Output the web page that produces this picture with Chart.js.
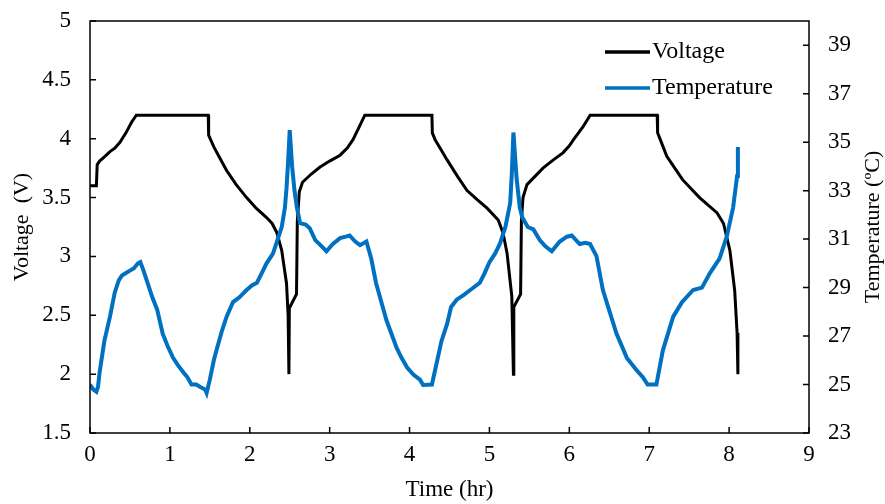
<!DOCTYPE html>
<html>
<head>
<meta charset="utf-8">
<script src="https://cdn.jsdelivr.net/npm/chart.js@4.4.1/dist/chart.umd.min.js"></script>
<style>
  html, body { margin: 0; padding: 0; background: #fff; }
</style>
</head>
<body>
<canvas id="lineChart" width="885" height="504"></canvas>
<script>
// Voltage curve: time (hr) / voltage (V)
const voltTime = [0, 0.08, 0.09, 0.12, 0.17, 0.25, 0.31, 0.375, 0.45, 0.52, 0.58, 1.48, 1.485, 1.55, 1.63, 1.71, 1.83, 1.96, 2.08, 2.21, 2.28, 2.34, 2.40, 2.46, 2.48, 2.49,
    2.495, 2.585, 2.595, 2.62, 2.66, 2.77, 2.88, 3.00, 3.13, 3.22, 3.29, 3.37, 3.44, 4.28, 4.285, 4.32, 4.40, 4.47, 4.60, 4.72, 4.85, 4.97, 5.11, 5.17, 5.22, 5.28, 5.30,
    5.305, 5.39, 5.40, 5.42, 5.47, 5.57, 5.67, 5.80, 5.92, 6.00, 6.05, 6.17, 6.26, 7.10, 7.105, 7.14, 7.22, 7.32, 7.42, 7.63, 7.85, 7.93, 8.01, 8.07, 8.10, 8.11];
const voltage = [3.6, 3.6, 3.78, 3.81, 3.84, 3.89, 3.92, 3.97, 4.05, 4.14, 4.2, 4.2, 4.03, 3.93, 3.83, 3.73, 3.61, 3.50, 3.41, 3.33, 3.28, 3.20, 3.05, 2.77, 2.5, 2.0,
    2.56, 2.68, 3.3, 3.55, 3.63, 3.70, 3.76, 3.81, 3.86, 3.92, 3.99, 4.1, 4.2, 4.2, 4.05, 3.99, 3.90, 3.82, 3.68, 3.56, 3.48, 3.41, 3.31, 3.20, 3.03, 2.66, 2.0,
    2.57, 2.68, 3.3, 3.5, 3.61, 3.68, 3.75, 3.82, 3.88, 3.94, 3.99, 4.1, 4.2, 4.2, 4.05, 3.99, 3.85, 3.75, 3.65, 3.50, 3.37, 3.28, 3.05, 2.71, 2.35, 2.0];

// Temperature curve: time (hr) / temperature (ºC)
const tempTime = [0, 0.04, 0.08, 0.10, 0.12, 0.18, 0.25, 0.31, 0.36, 0.40, 0.45, 0.50, 0.55, 0.60, 0.63, 0.67, 0.71, 0.78, 0.84, 0.91, 0.97,
    1.04, 1.10, 1.17, 1.22, 1.27, 1.33, 1.38, 1.44, 1.46, 1.50, 1.55, 1.59, 1.65, 1.71, 1.79, 1.87, 1.96, 2.03, 2.09, 2.15, 2.21,
    2.29, 2.35, 2.40, 2.44, 2.46, 2.48, 2.50, 2.53, 2.56, 2.59, 2.63, 2.70, 2.75, 2.82, 2.90, 2.96, 3.04, 3.13, 3.20, 3.25, 3.32,
    3.38, 3.46, 3.52, 3.58, 3.63, 3.71, 3.84, 3.90, 3.97, 4.05, 4.13, 4.17, 4.28, 4.34, 4.40, 4.47, 4.52, 4.59, 4.68, 4.76, 4.88,
    4.94, 5.00, 5.07, 5.13, 5.20, 5.26, 5.28, 5.30, 5.34, 5.38, 5.41, 5.48, 5.55, 5.63, 5.70, 5.78, 5.88, 5.97, 6.03, 6.10, 6.13,
    6.20, 6.26, 6.34, 6.42, 6.51, 6.59, 6.72, 6.84, 6.92, 6.98, 7.09, 7.17, 7.30, 7.41, 7.55, 7.66, 7.76, 7.88, 7.97, 8.05, 8.10, 8.11];
const temperature = [25.0, 24.8, 24.7, 24.9, 25.5, 26.8, 27.8, 28.8, 29.3, 29.5, 29.6, 29.7, 29.8, 30.0, 30.05, 29.7, 29.3, 28.6, 28.1, 27.1, 26.6,
    26.1, 25.8, 25.5, 25.3, 25.0, 25.0, 24.9, 24.8, 24.65, 25.2, 26.0, 26.5, 27.2, 27.8, 28.4, 28.6, 28.9, 29.1, 29.2, 29.6, 30.0,
    30.4, 31.0, 31.5, 32.3, 33.1, 34.2, 35.5, 34.0, 33.0, 32.3, 31.66, 31.6, 31.45, 30.96, 30.7, 30.5, 30.8, 31.04, 31.1, 31.15, 30.9,
    30.75, 30.9, 30.2, 29.2, 28.6, 27.66, 26.5, 26.1, 25.7, 25.4, 25.2, 24.98, 25.0, 25.9, 26.8, 27.5, 28.2, 28.5, 28.7, 28.9, 29.2,
    29.6, 30.05, 30.4, 30.8, 31.5, 32.5, 33.7, 35.4, 33.5, 32.3, 31.9, 31.5, 31.4, 30.96, 30.7, 30.5, 30.9, 31.1, 31.15, 30.9, 30.8,
    30.85, 30.8, 30.3, 28.9, 27.95, 27.1, 26.1, 25.6, 25.3, 25.0, 25.0, 26.4, 27.8, 28.4, 28.9, 29.0, 29.6, 30.2, 31.1, 32.3, 33.6, 34.8];

// Tick labels
const timeTicks = [0, 1, 2, 3, 4, 5, 6, 7, 8, 9];
const voltTicks = [1.5, 2, 2.5, 3, 3.5, 4, 4.5, 5];
const tempTicks = [23, 25, 27, 29, 31, 33, 35, 37, 39];

const toPoints = (xs, ys) => xs.map((x, i) => ({ x: x, y: ys[i] }));

const serif = "'Liberation Serif', 'Times New Roman', serif";
Chart.defaults.font.family = serif;
Chart.defaults.color = '#000';

// vertical axes: fixed width, and no extra room above/below for the end labels
const fitVertical = width => axis => {
    axis.width = width;
    axis.paddingTop = 0;
    axis.paddingBottom = 0;
};

// Frame round the plot, short tick marks pointing inwards, right-hand title
const frameTicks = {
    id: 'frameTicks',
    afterDraw(chart) {
        const { ctx, chartArea: a, scales } = chart;
        const len = 6;
        ctx.save();
        ctx.strokeStyle = '#000';
        ctx.lineWidth = 1.5;
        ctx.strokeRect(a.left, a.top, a.right - a.left, a.bottom - a.top);
        ctx.beginPath();
        scales.x.ticks.forEach(t => {
            const px = scales.x.getPixelForValue(t.value);
            ctx.moveTo(px, a.bottom);
            ctx.lineTo(px, a.bottom - len);
        });
        scales.y.ticks.forEach(t => {
            const py = scales.y.getPixelForValue(t.value);
            ctx.moveTo(a.left, py);
            ctx.lineTo(a.left + len, py);
        });
        scales.y2.ticks.forEach(t => {
            const py = scales.y2.getPixelForValue(t.value);
            ctx.moveTo(a.right, py);
            ctx.lineTo(a.right - len, py);
        });
        ctx.stroke();

        // the right title reads bottom to top, like the left one
        ctx.translate(873, (a.top + a.bottom) / 2);
        ctx.rotate(-Math.PI / 2);
        ctx.font = '22px ' + serif;
        ctx.textAlign = 'center';
        ctx.textBaseline = 'middle';
        ctx.fillStyle = '#000';
        ctx.fillText('Temperature (ºC)', 0, 0);
        ctx.restore();
    }
};

// Legend inside the plot, top right
const insideLegend = {
    id: 'insideLegend',
    afterDraw(chart) {
        const ctx = chart.ctx;
        const order = ['Voltage', 'Temperature'];
        ctx.save();
        ctx.font = '24px ' + serif;
        ctx.textBaseline = 'middle';
        ctx.fillStyle = '#000';
        order.forEach((name, i) => {
            const ds = chart.data.datasets.find(d => d.label === name);
            const y = 52 + i * 36;
            ctx.strokeStyle = ds.borderColor;
            ctx.lineWidth = 3.5;
            ctx.beginPath();
            ctx.moveTo(605, y);
            ctx.lineTo(650, y);
            ctx.stroke();
            ctx.fillText(name, 652, y);
        });
        ctx.restore();
    }
};

const ctx = document.getElementById('lineChart').getContext('2d');
new Chart(ctx, {
    type: 'line',
    data: {
        datasets: [{
            label: 'Temperature',
            data: toPoints(tempTime, temperature),
            yAxisID: 'y2',
            borderColor: '#0070C0',
            borderWidth: 4,
            pointRadius: 0,
            tension: 0,
            fill: false
        }, {
            label: 'Voltage',
            data: toPoints(voltTime, voltage),
            yAxisID: 'y',
            borderColor: '#000000',
            borderWidth: 3,
            pointRadius: 0,
            tension: 0,
            fill: false
        }]
    },
    options: {
        responsive: false,
        animation: false,
        layout: { padding: { top: 21, left: 0, right: 0, bottom: 0 } },
        plugins: {
            legend: { display: false },
            tooltip: { enabled: false }
        },
        scales: {
            x: {
                type: 'linear',
                min: 0,
                max: 9,
                afterBuildTicks: axis => { axis.ticks = timeTicks.map(v => ({ value: v })); },
                afterFit: axis => { axis.height = 71; },
                grid: { display: false, drawTicks: false },
                border: { display: false },
                ticks: { font: { size: 23 }, padding: 8, maxRotation: 0, callback: v => String(v) },
                title: { display: true, text: 'Time (hr)', font: { size: 23 }, padding: { top: 8, bottom: 0 } }
            },
            y: {
                type: 'linear',
                position: 'left',
                min: 1.5,
                max: 5,
                afterBuildTicks: axis => { axis.ticks = voltTicks.map(v => ({ value: v })); },
                afterFit: fitVertical(90),
                grid: { display: false, drawTicks: false },
                border: { display: false },
                ticks: { font: { size: 23 }, padding: 19, callback: v => String(v) },
                title: { display: true, text: 'Voltage  (V)', font: { size: 22 }, padding: { top: 9, bottom: 0 } }
            },
            y2: {
                type: 'linear',
                position: 'right',
                min: 23,
                max: 40,
                afterBuildTicks: axis => { axis.ticks = tempTicks.map(v => ({ value: v })); },
                afterFit: fitVertical(76),
                grid: { display: false, drawTicks: false },
                border: { display: false },
                ticks: { font: { size: 23 }, padding: 19, callback: v => String(v) }
            }
        }
    },
    plugins: [frameTicks, insideLegend]
});
</script>
</body>
</html>
